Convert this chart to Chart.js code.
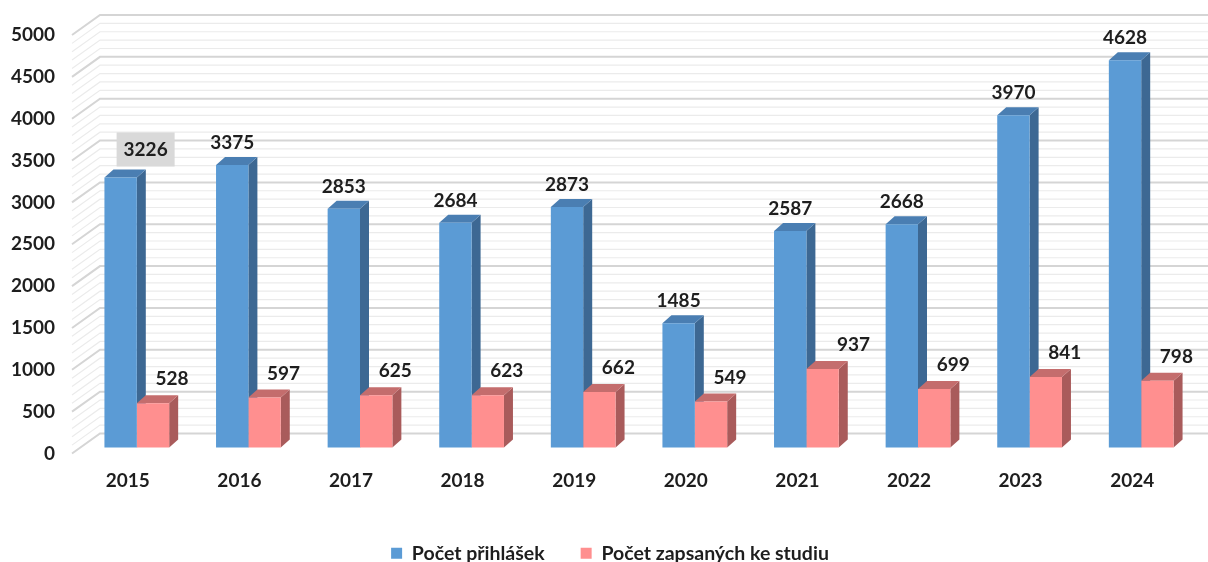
<!DOCTYPE html>
<html>
<head>
<meta charset="utf-8">
<script src="https://cdn.jsdelivr.net/npm/chart.js@4.4.1/dist/chart.umd.min.js"></script>
<style>
    html, body { margin: 0; padding: 0; background: #ffffff; }
    #wrap { width: 1208px; height: 562px; }
</style>
</head>
<body>
<div id="wrap"><canvas id="admissionsChart"></canvas></div>
<script>
// Data
const years = ['2015', '2016', '2017', '2018', '2019', '2020', '2021', '2022', '2023', '2024'];
const applications = [3226, 3375, 2853, 2684, 2873, 1485, 2587, 2668, 3970, 4628];
const enrolled = [528, 597, 625, 623, 662, 549, 937, 699, 841, 798];
const seriesNames = ['Počet přihlášek', 'Počet zapsaných ke studiu'];
const yMax = 5000;
const majorStep = 500;
const minorStep = 100;

// Look of the fake 3D (Excel-like)
const FONT = 'Lato, "Open Sans", sans-serif';
const wallDx = 28, wallDy = -20;     // back wall offset from front plane
const barShiftX = 9, barShiftY = -6; // bars sit a little into the depth
const barDx = 9, barDy = -8;         // bar depth
const faces = [
    { front: '#5b9bd5', side: '#3d6893', top: '#4a7eb2' },
    { front: '#ff8f8f', side: '#a95b5b', top: '#c46d6d' }
];

const depth3d = {
    id: 'depth3d',
    afterLayout(chart) {
        // legend in the original sits a bit right of the canvas centre
        chart.legend.left += 16;
        chart.legend.right += 16;
    },
    beforeDatasetsDraw(chart) {
        const { ctx, chartArea, scales } = chart;
        const y = scales.y;

        // side wall + back wall gridlines
        ctx.save();
        for (let v = 0; v <= yMax; v += minorStep) {
            const py = y.getPixelForValue(v);
            const major = v % majorStep === 0;
            ctx.strokeStyle = major ? '#d5d5d5' : '#ebebeb';
            ctx.lineWidth = major ? 2 : 1.2;
            ctx.beginPath();
            ctx.moveTo(chartArea.left, py);
            ctx.lineTo(chartArea.left + wallDx, py + wallDy);
            ctx.lineTo(chartArea.right + wallDx, py + wallDy);
            ctx.stroke();
        }
        ctx.restore();

        // bars: side and top faces, front faces are drawn by Chart.js afterwards
        ctx.save();
        ctx.translate(barShiftX, barShiftY);
        years.forEach((_, i) => {
            chart.data.datasets.forEach((ds, d) => {
                const bar = chart.getDatasetMeta(d).data[i];
                const left = bar.x - bar.width / 2;
                const right = bar.x + bar.width / 2;

                ctx.fillStyle = faces[d].side;
                ctx.beginPath();
                ctx.moveTo(right, bar.y);
                ctx.lineTo(right + barDx, bar.y + barDy);
                ctx.lineTo(right + barDx, bar.base + barDy);
                ctx.lineTo(right, bar.base);
                ctx.closePath();
                ctx.fill();

                ctx.fillStyle = faces[d].top;
                ctx.beginPath();
                ctx.moveTo(left, bar.y);
                ctx.lineTo(left + barDx, bar.y + barDy);
                ctx.lineTo(right + barDx, bar.y + barDy);
                ctx.lineTo(right, bar.y);
                ctx.closePath();
                ctx.fill();
            });
        });
    },
    afterDatasetsDraw(chart) {
        const ctx = chart.ctx;
        ctx.restore();

        // value labels
        ctx.save();
        ctx.font = 'bold 19px ' + FONT;
        ctx.textAlign = 'center';
        ctx.textBaseline = 'middle';
        chart.data.datasets.forEach((ds, d) => {
            chart.getDatasetMeta(d).data.forEach((bar, i) => {
                let lx = bar.x + barShiftX;
                let ly = bar.y + barShiftY;
                if (d === 0) {
                    ly -= 22;
                    if (i === 0) {
                        // this label was moved by hand and has a grey fill
                        lx += 25;
                        ly -= 6;
                        ctx.fillStyle = '#d9d9d9';
                        ctx.fillRect(lx - 29, ly - 17, 58, 34);
                    }
                } else {
                    lx += i === 6 ? 31 : 19;
                    ly -= 24;
                }
                ctx.fillStyle = '#1e1e1e';
                ctx.fillText(String(ds.data[i]), lx, ly);
            });
        });
        ctx.restore();
    }
};

const ctx = document.getElementById('admissionsChart').getContext('2d');
const admissionsChart = new Chart(ctx, {
    type: 'bar',
    data: {
        labels: years,
        datasets: [
            {
                label: seriesNames[0],
                data: applications,
                backgroundColor: faces[0].front,
                categoryPercentage: 0.58,
                barPercentage: 1.0,
                clip: false
            },
            {
                label: seriesNames[1],
                data: enrolled,
                backgroundColor: faces[1].front,
                categoryPercentage: 0.58,
                barPercentage: 1.0,
                clip: false
            }
        ]
    },
    options: {
        responsive: true,
        maintainAspectRatio: false,
        animation: false,
        layout: {
            padding: { left: 0, right: 20, top: 35, bottom: -11 }
        },
        plugins: {
            legend: {
                display: true,
                position: 'bottom',
                labels: {
                    color: '#1e1e1e',
                    boxWidth: 11,
                    boxHeight: 11,
                    padding: 36,
                    font: { family: FONT, size: 19.5, weight: 'bold' }
                }
            },
            tooltip: { enabled: false },
            title: { display: false }
        },
        scales: {
            x: {
                grid: { display: false, drawTicks: false },
                border: { display: false },
                ticks: {
                    color: '#1e1e1e',
                    padding: 16,
                    maxRotation: 0,
                    font: { family: FONT, size: 19, weight: 'bold' }
                },
                afterFit(scale) {
                    scale.height = 54;
                }
            },
            y: {
                min: 0,
                max: yMax,
                grid: { display: false, drawTicks: false },
                border: { display: false },
                ticks: {
                    stepSize: majorStep,
                    color: '#1e1e1e',
                    padding: 17,
                    font: { family: FONT, size: 19, weight: 'bold' },
                    callback: (value) => String(value)
                },
                afterFit(scale) {
                    scale.width = 72;
                }
            }
        }
    },
    plugins: [depth3d]
});
</script>
</body>
</html>
